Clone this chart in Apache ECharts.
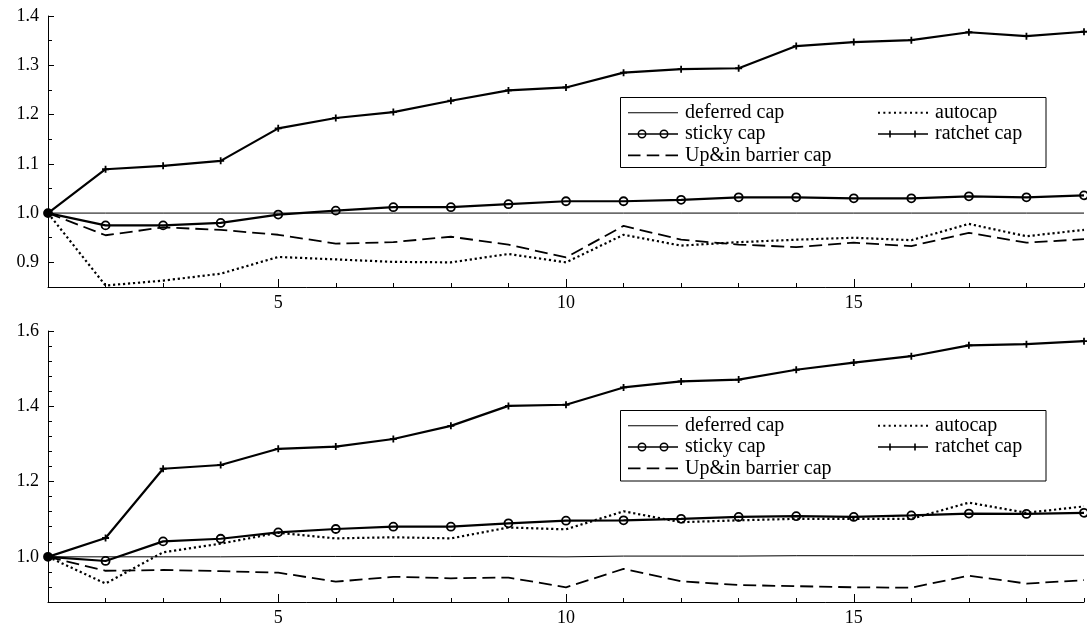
<!DOCTYPE html>
<html><head><meta charset="utf-8">
<script src="https://cdn.jsdelivr.net/npm/echarts@6/dist/echarts.min.js"></script>
<style>html,body{margin:0;padding:0;background:#fff}#c{width:1087px;height:630px}</style>
</head><body><div id="c"></div>
<script>
const periods = [1,2,3,4,5,6,7,8,9,10,11,12,13,14,15,16,17,18,19];
const xTicks = [5,10,15];
const topYTicks = [0.9,1.0,1.1,1.2,1.3,1.4];
const botYTicks = [1.0,1.2,1.4,1.6];
const seriesNames = ['deferred cap','sticky cap','Up&in barrier cap','autocap','ratchet cap'];

const topDeferred = [1.0,1.0,1.0,1.0,1.0,1.0,1.0,1.0,1.0,1.0,1.0,1.0,1.0,1.0,1.0,1.0,1.0,1.0,1.0];
const topSticky   = [1.0,0.975,0.975,0.980,0.997,1.005,1.012,1.012,1.018,1.024,1.024,1.027,1.032,1.032,1.030,1.030,1.034,1.032,1.036];
const topUpIn     = [1.0,0.955,0.971,0.966,0.956,0.938,0.941,0.952,0.936,0.910,0.974,0.946,0.936,0.931,0.940,0.933,0.960,0.940,0.947];
const topAutocap  = [1.0,0.853,0.863,0.877,0.911,0.906,0.901,0.900,0.917,0.900,0.956,0.934,0.941,0.946,0.950,0.945,0.978,0.953,0.966];
const topRatchet  = [1.0,1.089,1.096,1.106,1.172,1.193,1.205,1.228,1.249,1.255,1.285,1.292,1.294,1.339,1.347,1.351,1.367,1.359,1.368];

const botDeferred = [1.0,1.0,1.0,1.0,1.001,1.001,1.001,1.001,1.001,1.0,1.002,1.002,1.002,1.003,1.003,1.003,1.004,1.004,1.004];
const botSticky   = [1.0,0.989,1.041,1.048,1.065,1.074,1.080,1.080,1.089,1.096,1.097,1.101,1.106,1.108,1.106,1.110,1.115,1.114,1.117];
const botUpIn     = [1.0,0.963,0.965,0.962,0.958,0.934,0.947,0.943,0.945,0.919,0.968,0.935,0.925,0.922,0.919,0.918,0.950,0.929,0.938];
const botAutocap  = [1.0,0.929,1.012,1.035,1.064,1.049,1.052,1.049,1.078,1.073,1.121,1.092,1.097,1.101,1.101,1.101,1.144,1.117,1.134];
const botRatchet  = [1.0,1.050,1.234,1.244,1.287,1.293,1.313,1.348,1.401,1.404,1.450,1.466,1.471,1.497,1.516,1.533,1.562,1.565,1.573];

const FONT = 'Liberation Serif';
const plusPath = 'path://M2.6,0H4.4V2.6H7V4.4H4.4V7H2.6V4.4H0V2.6H2.6Z';
const deferredIcon = 'path://M0,0H50V1.1H0Z';
const stickyIcon = 'path://M0,3.75H50V5.25H0Z M9.5,4.5A4.5,4.5 0 1 1 18.5,4.5A4.5,4.5 0 1 1 9.5,4.5Z M11,4.5A3,3 0 1 0 17,4.5A3,3 0 1 0 11,4.5Z M31.5,4.5A4.5,4.5 0 1 1 40.5,4.5A4.5,4.5 0 1 1 31.5,4.5Z M33,4.5A3,3 0 1 0 39,4.5A3,3 0 1 0 33,4.5Z';
const dashedIcon = 'path://M0,0H12.5V1.8H0Z M18.75,0H31.25V1.8H18.75Z M37.5,0H50V1.8H37.5Z';
let dotted = '';
for (let k = 0; k < 10; k++) { const x0 = k * 5.33; dotted += 'M' + x0 + ',0H' + (x0 + 2) + 'V2H' + x0 + 'Z '; }
const dottedIcon = 'path://' + dotted.trim();
const ratchetIcon = 'path://M0,2.75H50V4.25H0Z M11.2,0H12.8V2.7H15.5V4.3H12.8V7H11.2V4.3H8.5V2.7H11.2Z M36.2,0H37.8V2.7H40.5V4.3H37.8V7H36.2V4.3H33.5V2.7H36.2Z';

function near(v, arr){ return arr.some(a => Math.abs(a - v) < 1e-6); }
function pairs(vals){ return periods.map((p,i)=>[p, vals[i]]); }

function panelSeries(gi, vals){
  const xi = gi*2, yi = gi*2;
  const [d, s, u, a, r] = vals;
  return [
    {name:seriesNames[0], type:'line', xAxisIndex:xi, yAxisIndex:yi, data:pairs(d), symbol:'none',
     lineStyle:{color:'#000', width:1}, itemStyle:{color:'#000'}, z:2},
    {name:seriesNames[1], type:'line', xAxisIndex:xi, yAxisIndex:yi,
     data:pairs(s).map((pt,i)=> i===0 ? {value:pt, itemStyle:{color:'#000'}} : pt),
     symbol:'circle', symbolSize:8, showSymbol:true,
     lineStyle:{color:'#000', width:2.2}, itemStyle:{color:'rgba(255,255,255,0)', borderColor:'#000', borderWidth:1.8}, z:3},
    {name:seriesNames[2], type:'line', xAxisIndex:xi, yAxisIndex:yi, data:pairs(u), symbol:'none',
     lineStyle:{color:'#000', width:1.8, type:[13,6]}, itemStyle:{color:'#000'}, z:2},
    {name:seriesNames[3], type:'line', xAxisIndex:xi, yAxisIndex:yi, data:pairs(a), symbol:'none',
     lineStyle:{color:'#000', width:2.2, type:[2.2,2.8]}, itemStyle:{color:'#000'}, z:2},
    {name:seriesNames[4], type:'line', xAxisIndex:xi, yAxisIndex:yi, data:pairs(r),
     symbol:plusPath, symbolSize:7, showSymbol:true,
     lineStyle:{color:'#000', width:2.2}, itemStyle:{color:'#000'}, z:3}
  ];
}

function xAxes(gi){
  return [
    {type:'value', gridIndex:gi, min:1, max:19, interval:1, position:'bottom',
     axisLine:{show:true, onZero:false, lineStyle:{color:'#000', width:1}},
     axisTick:{show:true, inside:true, length:4, lineStyle:{color:'#000', width:1}},
     axisLabel:{margin:7, fontFamily:FONT, fontSize:18, color:'#000', formatter:v => near(v, xTicks) ? String(v) : ''},
     splitLine:{show:false}},
    {type:'value', gridIndex:gi, min:1, max:19, position:'bottom',
     axisLine:{show:false, onZero:false},
     axisTick:{show:true, inside:true, length:8, customValues:xTicks, lineStyle:{color:'#000', width:1}},
     axisLabel:{show:false}, splitLine:{show:false}}
  ];
}

function yAxes(gi, min, max, step, ticks){
  return [
    {type:'value', gridIndex:gi, min:min, max:max, interval:step, position:'left',
     axisLine:{show:true, onZero:false, lineStyle:{color:'#000', width:1}},
     axisTick:{show:true, inside:true, length:4, lineStyle:{color:'#000', width:1}},
     axisLabel:{margin:9, fontFamily:FONT, fontSize:18, color:'#000', formatter:v => near(v, ticks) ? v.toFixed(1) : ''},
     splitLine:{show:false}},
    {type:'value', gridIndex:gi, min:min, max:max, position:'left',
     axisLine:{show:false, onZero:false},
     axisTick:{show:true, inside:true, length:6, customValues:ticks, lineStyle:{color:'#000', width:1}},
     axisLabel:{show:false}, splitLine:{show:false}}
  ];
}

const legendText = {fontFamily:FONT, fontSize:20, color:'#000', lineHeight:20, padding:[0,0,0,2]};
const iconStyle = {color:'#000', borderWidth:0};
function legends(top){
  return [
    {left:628, top:top, orient:'vertical', padding:0, itemWidth:50, itemHeight:9, itemGap:1.3,
     selectedMode:false, textStyle:legendText,
     data:[{name:seriesNames[0], icon:deferredIcon, itemStyle:iconStyle},
           {name:seriesNames[1], icon:stickyIcon, itemStyle:iconStyle},
           {name:seriesNames[2], icon:dashedIcon, itemStyle:iconStyle}]},
    {left:878, top:top, orient:'vertical', padding:0, itemWidth:50, itemHeight:9, itemGap:1.3,
     selectedMode:false, textStyle:legendText,
     data:[{name:seriesNames[3], icon:dottedIcon, itemStyle:iconStyle},
           {name:seriesNames[4], icon:ratchetIcon, itemStyle:iconStyle}]}
  ];
}

const chart = echarts.init(document.getElementById('c'), null, {renderer:'canvas'});
chart.setOption({
  backgroundColor:'#fff',
  animation:false,
  grid:[
    {left:48, top:16, width:1039, height:271},
    {left:48, top:331, width:1039, height:271}
  ],
  xAxis:[...xAxes(0), ...xAxes(1)],
  yAxis:[...yAxes(0, 0.85, 1.4, 0.05, topYTicks), ...yAxes(1, 0.88, 1.6, 0.04, botYTicks)],
  legend:[...legends(102.7), ...legends(415.7)],
  graphic:[
    {type:'rect', z:3, shape:{x:620.5, y:97.5, width:425.5, height:70}, style:{fill:'#fff', stroke:'#000', lineWidth:1}},
    {type:'rect', z:3, shape:{x:620.5, y:410.5, width:425.5, height:70.5}, style:{fill:'#fff', stroke:'#000', lineWidth:1}}
  ],
  series:[
    ...panelSeries(0, [topDeferred, topSticky, topUpIn, topAutocap, topRatchet]),
    ...panelSeries(1, [botDeferred, botSticky, botUpIn, botAutocap, botRatchet])
  ]
});
</script></body></html>
